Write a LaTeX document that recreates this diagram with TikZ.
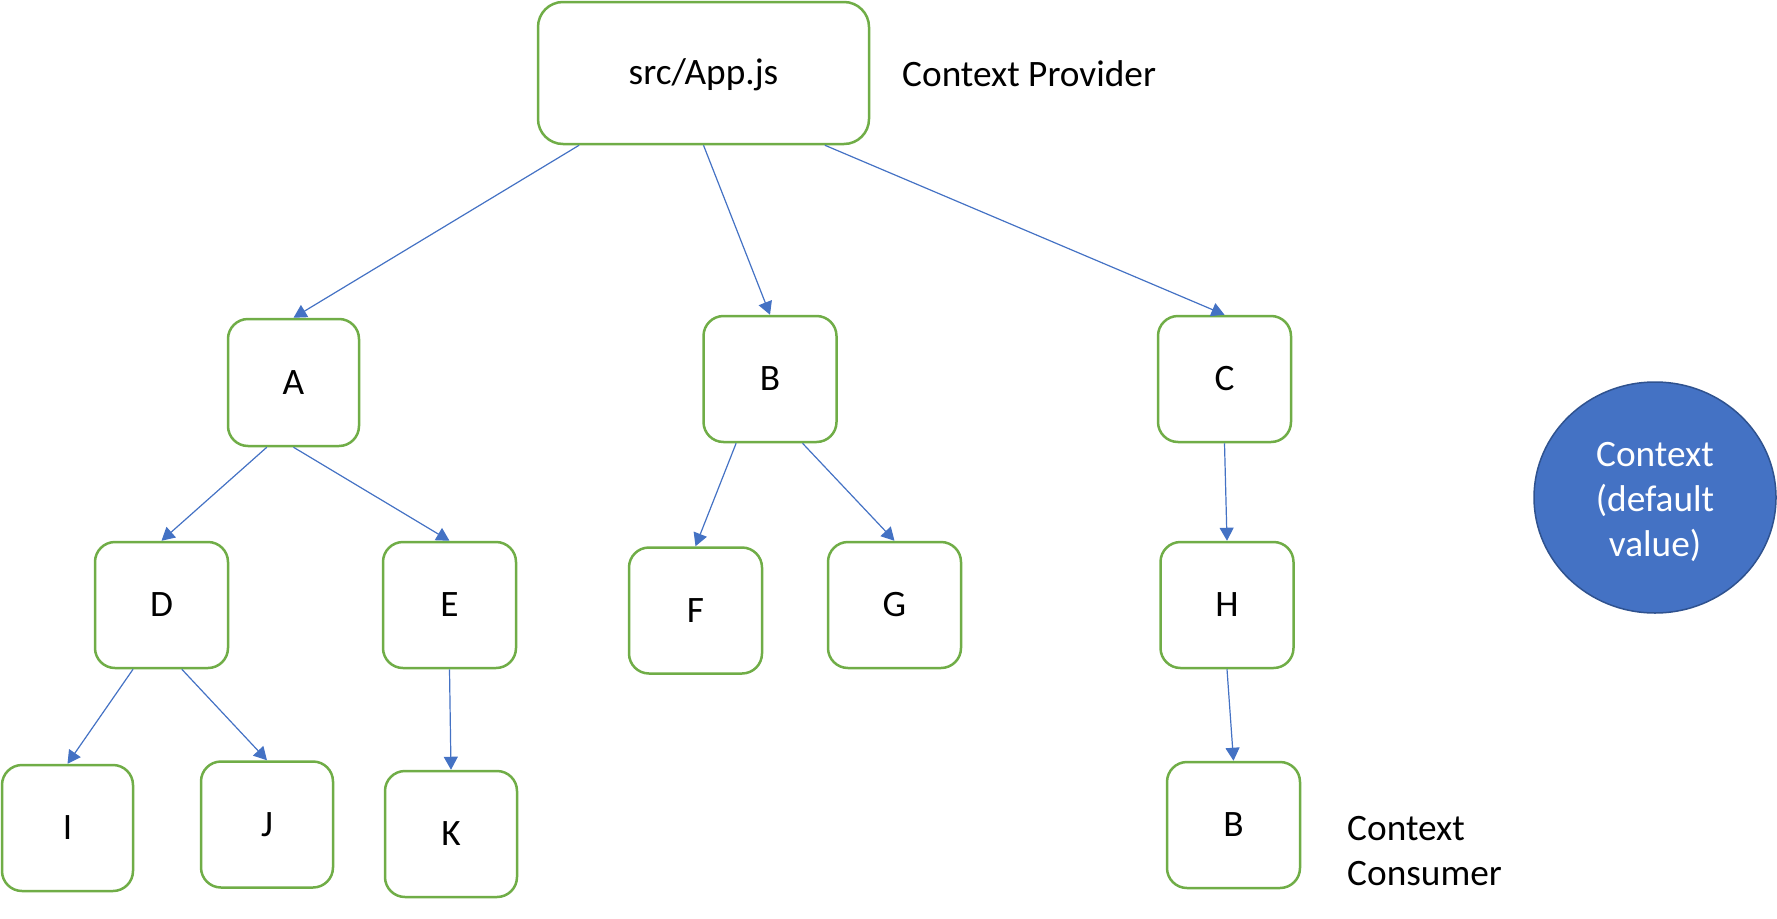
\documentclass[tikz,border=0pt]{standalone}
\usepackage{fontspec}
\setmainfont{Carlito}
\usetikzlibrary{arrows.meta,calc,shapes.geometric}
\definecolor{boxgreen}{HTML}{70AD47}
\definecolor{arrblue}{HTML}{4472C4}
\definecolor{circedge}{HTML}{2F528F}
\tikzset{
  txt/.style={font=\fontsize{37.3}{45}\selectfont, inner sep=0pt},
  onel/.style={txt, text height=23.5pt, text depth=0pt},
  bx/.style={onel, draw=boxgreen, line width=2.5pt, rounded corners=20pt,
    minimum width=133pt, minimum height=126pt, fill=white},
  arr/.style={draw=arrblue, line width=1.2pt, -{Triangle[length=13pt,width=14pt]}},
}
\begin{document}
\begin{tikzpicture}[x=1pt,y=-1pt]
\useasboundingbox (0,0) rectangle (1777,918);
% boxes
\node[bx, minimum width=331pt, minimum height=142pt, rounded corners=25pt] (App) at (703.5,73) {src/App.js};
\node[onel, anchor=west] (prov) at (902,75) {Context Provider};
\node[bx, minimum width=131pt, minimum height=127pt] (A) at (293.5,382.5) {A};
\node[bx] (B) at (770,379) {B};
\node[bx] (C) at (1224.5,379) {C};
\node[bx] (D) at (161.5,605) {D};
\node[bx] (E) at (449.5,605) {E};
\node[bx] (F) at (695.5,610.5) {F};
\node[bx] (G) at (894.5,605) {G};
\node[bx] (H) at (1227,605) {H};
\node[bx, minimum width=131pt] (I) at (67.5,828) {I};
\node[bx, minimum width=132pt] (J) at (267,824.5) {J};
\node[bx, minimum width=132pt] (K) at (451,834) {K};
\node[bx] (B2) at (1233.5,825) {B};
\node[txt, anchor=west, align=left] (cons) at (1347,851) {Context\\Consumer};
% context circle
\node[ellipse, draw=circedge, line width=1.5pt, fill=arrblue, minimum width=242pt, minimum height=231pt, inner sep=0pt] (ctx) at (1655,497.5) {};
\node[txt, text=white, align=center] (ctxt) at ([yshift=-4pt]ctx.center) {Context\\(default\\value)};
% connectors
\draw[arr] ($(App.south west)!0.127!(App.south east)$) -- (A.north);
\draw[arr] (App.south) -- (B.north);
\draw[arr] ($(App.south west)!0.864!(App.south east)$) -- (C.north);
\draw[arr] ($(A.south west)!0.30!(A.south east)$) -- (D.north);
\draw[arr] (A.south) -- (E.north);
\draw[arr] ($(B.south west)!0.25!(B.south east)$) -- (F.north);
\draw[arr] ($(B.south west)!0.74!(B.south east)$) -- (G.north);
\draw[arr] (C.south) -- (H.north);
\draw[arr] ($(D.south west)!0.29!(D.south east)$) -- (I.north);
\draw[arr] ($(D.south west)!0.65!(D.south east)$) -- (J.north);
\draw[arr] (E.south) -- (K.north);
\draw[arr] (H.south) -- (B2.north);
\end{tikzpicture}
\end{document}
